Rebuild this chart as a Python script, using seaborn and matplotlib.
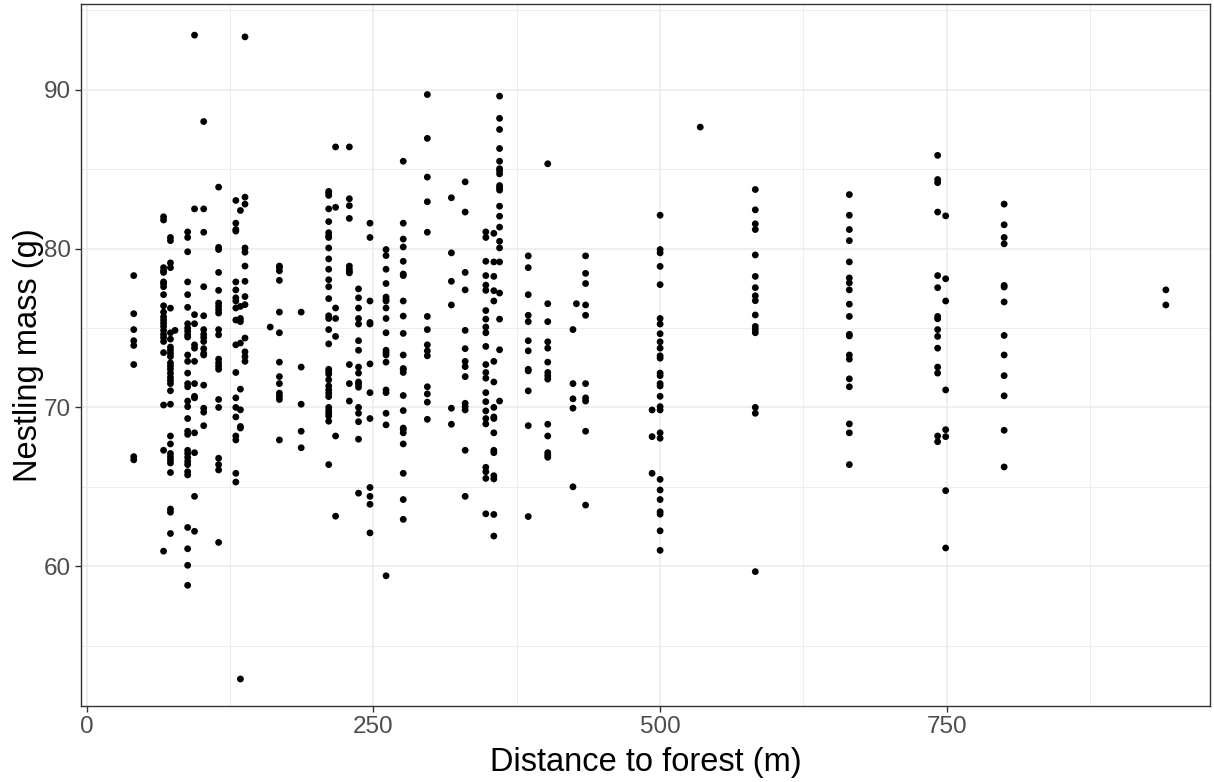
import matplotlib
matplotlib.use("Agg")
import matplotlib.pyplot as plt
import seaborn as sns
import pandas as pd
from matplotlib.ticker import FixedLocator

# ---- data: nestling masses (g) per site ----
site_dist = [41, 67, 73, 77, 88, 94, 102, 115, 130, 134, 138, 160, 168, 187,
             211, 217, 229, 237, 247, 261, 276, 297, 318, 330, 348, 355, 360,
             385, 402, 424, 427, 435, 493, 500, 535, 583, 665, 742, 749, 800, 941]

m_041 = [78.3, 75.9, 74.9, 74.2, 73.9, 72.7, 66.9, 66.7]
m_067 = [82.0, 81.8, 78.8, 78.6, 78.5, 77.9, 77.8, 77.6, 77.1, 76.4, 76.0, 75.7,
         75.5, 75.3, 75.1, 74.85, 74.6, 74.4, 74.15, 73.45, 70.15, 67.3, 60.95]
m_073 = [80.7, 80.5, 79.1, 78.8, 76.25, 74.7, 74.3, 73.8, 73.6, 73.4, 73.2, 72.8,
         72.6, 72.4, 72.15, 71.9, 71.7, 71.5, 71.05, 70.2, 68.2, 67.7, 67.1, 66.9,
         66.7, 66.5, 65.9, 63.6, 63.4, 62.06]
m_077 = [74.85]
m_088 = [81.05, 80.7, 79.8, 77.9, 77.1, 76.3, 75.27, 75.0, 74.8, 74.57, 74.43,
         73.3, 72.9, 72.16, 71.5, 71.3, 70.4, 70.05, 69.3, 68.5, 68.3, 67.3, 67.1,
         66.85, 66.6, 66.4, 65.95, 65.75, 62.44, 61.1, 60.06, 58.8]
m_094 = [93.44, 82.5, 75.84, 75.27, 73.94, 73.73, 72.9, 71.5, 70.7, 70.6, 68.4,
         67.15, 64.4, 62.2]
m_102 = [88.0, 82.5, 81.03, 77.6, 75.77, 74.9, 74.6, 74.4, 74.15, 73.7, 73.4,
         73.3, 71.4, 69.95, 69.7, 68.85]
m_115 = [83.87, 80.08, 79.94, 78.5, 77.37, 76.57, 76.36, 76.15, 75.94, 74.9,
         74.57, 73.04, 72.8, 72.6, 72.4, 70.5, 70.0, 66.8, 66.4, 66.06, 61.5]
m_130 = [83.03, 81.6, 81.2, 81.1, 77.9, 77.4, 76.9, 76.7, 76.26, 75.5, 73.94,
         72.2, 70.6, 70.0, 69.4, 68.2, 67.95, 65.85, 65.3]
m_134 = [82.4, 76.36, 75.6, 75.4, 74.05, 71.15, 69.85, 68.8, 68.7, 52.9]
m_138 = [93.33, 83.24, 82.8, 80.04, 79.77, 78.9, 77.94, 76.98, 76.47, 74.37,
         73.5, 73.2, 72.9]
m_160 = [75.06]
m_168 = [78.9, 78.8, 78.6, 78.0, 76.0, 74.7, 72.85, 71.94, 71.5, 70.9, 70.7,
         70.5, 67.95]
m_187 = [76.0, 72.54, 70.2, 68.5, 67.46]
m_211 = [83.6, 83.5, 83.35, 82.5, 81.7, 81.0, 80.8, 80.7, 80.04, 79.35, 78.7,
         78.04, 77.6, 76.85, 75.77, 75.6, 74.9, 74.0, 72.4, 72.26, 72.1, 71.74,
         71.35, 71.1, 70.9, 70.68, 70.0, 69.8, 69.63, 69.46, 69.13, 66.4]
m_217 = [86.4, 82.6, 76.26, 75.6, 74.47, 68.2, 63.15]
m_229 = [86.4, 83.14, 82.7, 81.9, 78.9, 78.7, 78.57, 78.47, 72.7, 71.5, 70.4]
m_237 = [77.46, 76.9, 76.26, 75.6, 75.25, 74.2, 73.6, 72.54, 72.16, 71.6, 71.46,
         71.27, 70.0, 69.63, 69.1, 68.0, 64.6]
m_247 = [81.6, 80.7, 76.7, 75.35, 75.25, 72.74, 70.93, 69.3, 64.96, 64.4, 63.9,
         62.1]
m_261 = [79.94, 79.56, 78.7, 77.8, 76.95, 76.8, 76.7, 76.26, 75.6, 74.7, 73.6,
         73.46, 73.3, 72.85, 71.1, 70.93, 69.63, 68.9, 59.4]
m_276 = [85.5, 81.6, 80.6, 80.1, 79.2, 78.4, 78.3, 76.7, 75.75, 74.66, 73.3,
         72.45, 72.4, 72.2, 70.75, 69.8, 68.7, 68.6, 68.4, 67.7, 65.85, 64.2, 62.95]
m_297 = [89.7, 86.94, 84.5, 82.95, 81.03, 75.73, 74.9, 73.94, 73.56, 73.25, 71.3,
         70.85, 70.33, 69.25]
m_318 = [83.2, 79.73, 77.94, 76.45, 69.95, 68.94]
m_330 = [84.2, 82.3, 78.5, 77.4, 74.85, 73.7, 72.9, 72.57, 71.94, 70.26, 70.05,
         69.84, 67.3, 64.4]
m_348 = [81.05, 80.7, 79.2, 78.3, 77.7, 77.37, 76.1, 75.56, 75.06, 74.7, 73.84,
         72.7, 72.2, 71.84, 70.93, 70.36, 69.78, 69.3, 68.96, 66.23, 65.95, 65.53,
         63.3]
m_355 = [80.96, 79.16, 78.25, 77.35, 76.7, 72.9, 71.6, 70.0, 69.4, 69.3, 68.4,
         67.3, 67.15, 65.7, 65.5, 63.26, 61.9]
m_360 = [89.6, 88.2, 87.5, 86.3, 85.5, 85.03, 84.9, 84.7, 83.97, 83.83, 83.68,
         82.67, 82.04, 81.35, 80.46, 80.04, 79.16, 77.2, 75.56, 73.63, 70.4]
m_385 = [79.54, 78.8, 77.1, 75.8, 75.4, 74.2, 73.56, 72.4, 72.3, 71.04, 68.85,
         63.13]
m_402 = [85.34, 76.53, 75.4, 74.13, 73.73, 72.85, 72.2, 71.99, 71.78, 68.94,
         68.2, 67.15, 67.0, 66.86]
m_424 = [74.9, 71.5, 70.54, 69.95, 65.0]
m_427 = [76.53]
m_435 = [79.54, 78.44, 77.8, 76.45, 75.8, 71.5, 70.6, 70.4, 68.5, 63.85]
m_493 = [69.84, 68.16, 65.85]
m_500 = [82.1, 79.94, 79.73, 78.88, 77.73, 75.6, 75.25, 74.64, 74.13, 73.73,
         73.25, 73.1, 72.16, 72.0, 71.5, 71.35, 70.7, 70.05, 69.84, 68.4, 68.06,
         65.47, 64.8, 64.2, 63.43, 63.28, 62.23, 61.0]
m_535 = [87.65]
m_583 = [83.72, 82.44, 81.56, 81.2, 79.6, 78.25, 77.54, 77.03, 76.72, 75.82,
         75.1, 74.9, 74.7, 70.0, 69.63, 59.66]
m_665 = [83.4, 82.1, 81.2, 80.5, 79.16, 78.15, 77.84, 77.4, 76.5, 75.73, 74.6,
         74.5, 73.3, 73.04, 71.8, 71.3, 68.96, 68.4, 66.4]
m_742 = [85.87, 84.35, 84.15, 82.3, 78.3, 77.54, 75.73, 75.58, 74.9, 74.47,
         73.73, 72.54, 72.16, 68.2, 67.84]
m_749 = [82.06, 78.1, 76.7, 71.1, 68.6, 68.16, 64.76, 61.15]
m_800 = [82.8, 81.5, 80.7, 80.3, 77.68, 77.58, 76.64, 74.53, 73.3, 72.0, 70.73,
         68.56, 66.25]
m_941 = [77.4, 76.45]

site_masses = [m_041, m_067, m_073, m_077, m_088, m_094, m_102, m_115, m_130,
               m_134, m_138, m_160, m_168, m_187, m_211, m_217, m_229, m_237,
               m_247, m_261, m_276, m_297, m_318, m_330, m_348, m_355, m_360,
               m_385, m_402, m_424, m_427, m_435, m_493, m_500, m_535, m_583,
               m_665, m_742, m_749, m_800, m_941]

x_breaks = [0, 250, 500, 750]
y_breaks = [60, 70, 80, 90]

rows = []
for d, ms in zip(site_dist, site_masses):
    for m in ms:
        rows.append((d, m))
df = pd.DataFrame(rows, columns=["distance", "mass"])

# ---- plot ----
sns.set_theme(style="white")
plt.rcParams["font.family"] = ["Liberation Sans", "DejaVu Sans"]

fig = plt.figure(figsize=(12.14, 7.82), dpi=100)
ax = fig.add_axes([81 / 1214, 1 - 706 / 782, (1210 - 81) / 1214, (706 - 4) / 782])

sns.scatterplot(data=df, x="distance", y="mass", color="black", s=24,
                linewidth=0, edgecolor="none", ax=ax, zorder=3)

ax.set_xlim(-5, 979.5)
ax.set_ylim(51.2, 95.4)

ax.xaxis.set_major_locator(FixedLocator(x_breaks))
ax.xaxis.set_minor_locator(FixedLocator([125, 375, 625, 875, 1000]))
ax.yaxis.set_major_locator(FixedLocator(y_breaks))
ax.yaxis.set_minor_locator(FixedLocator([55, 65, 75, 85, 95]))

ax.grid(which="major", color="#EBEBEB", linewidth=1.1, zorder=0)
ax.grid(which="minor", color="#EBEBEB", linewidth=0.6, zorder=0)
ax.set_axisbelow(True)

for sp in ax.spines.values():
    sp.set_visible(True)
    sp.set_color("#333333")
    sp.set_linewidth(1.0)

ax.tick_params(axis="both", which="major", length=4, width=1.0, color="#333333",
               labelsize=17.5, labelcolor="#4D4D4D", pad=3, bottom=True, left=True)
ax.tick_params(axis="both", which="minor", length=0)

ax.set_xlabel("Distance to forest (m)", fontsize=23.5, color="black", labelpad=7)
ax.set_ylabel("Nestling mass (g)", fontsize=23.5, color="black", labelpad=0)

fig.savefig("out.png", dpi=100, facecolor="white")
